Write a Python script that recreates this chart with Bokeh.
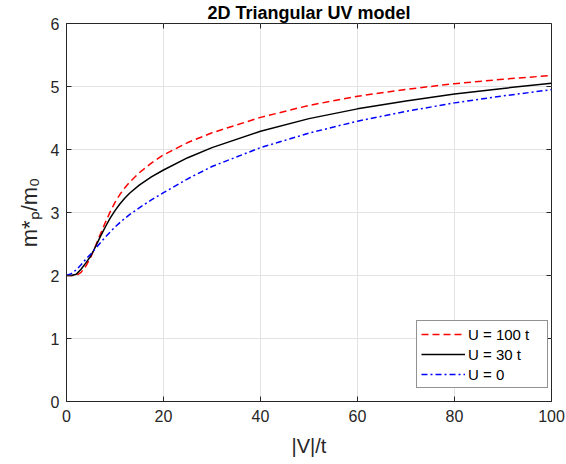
from bokeh.plotting import figure
from bokeh.models import Legend, LegendItem, FixedTicker, Range1d
from bokeh.embed import file_html
from bokeh.resources import INLINE

# ---- data ----
V = [0, 1, 2, 3, 4, 5, 6, 7, 8, 9, 10, 11, 12, 13, 15, 17.5, 20, 25, 30, 40, 50, 60, 70, 80, 90, 100]
m_U100 = [2.0, 2.0, 2.0, 2.05, 2.15, 2.29, 2.47, 2.66, 2.84, 3.01, 3.16, 3.285, 3.39, 3.48, 3.63,
          3.785, 3.915, 4.11, 4.265, 4.51, 4.70, 4.845, 4.955, 5.045, 5.115, 5.175]
m_U30 = [2.0, 2.0, 2.02, 2.10, 2.20, 2.31, 2.46, 2.62, 2.77, 2.91, 3.03, 3.135, 3.225, 3.305, 3.435,
         3.565, 3.675, 3.87, 4.03, 4.29, 4.49, 4.645, 4.77, 4.88, 4.97, 5.05]
m_U0 = [2.0, 2.03, 2.09, 2.17, 2.26, 2.34, 2.43, 2.52, 2.61, 2.69, 2.77, 2.84, 2.905, 2.965, 3.075,
        3.20, 3.315, 3.535, 3.73, 4.03, 4.26, 4.45, 4.605, 4.74, 4.85, 4.95]
labels = ["U = 100 t", "U = 30 t", "U = 0"]
x_ticks = [0, 20, 40, 60, 80, 100]
y_ticks = [0, 1, 2, 3, 4, 5, 6]

FONT = "Liberation Sans"
TXT = "#262626"
X0, X1, Y0, Y1 = 0, 100, 0, 6

p = figure(width=566, height=464, output_backend="svg", toolbar_location=None,
           x_range=Range1d(X0, X1), y_range=Range1d(Y0, Y1),
           min_border_left=66, min_border_right=15, min_border_top=23, min_border_bottom=63)
p.background_fill_color = "white"
p.border_fill_color = "white"
p.outline_line_color = TXT
p.outline_line_width = 1

p.title.text = "2D Triangular UV model"
p.title.align = "center"
p.title.text_font = FONT
p.title.text_font_size = "18px"
p.title.text_font_style = "bold"
p.title.text_color = "black"
p.title.standoff = 1

for ax in (p.xaxis[0], p.yaxis[0]):
    ax.major_tick_in = 5
    ax.major_tick_out = 0
    ax.minor_tick_line_color = None
    ax.axis_line_color = TXT
    ax.major_tick_line_color = TXT
    ax.major_label_text_font = FONT
    ax.major_label_text_font_size = "16px"
    ax.major_label_text_color = TXT
    ax.axis_label_text_font = FONT
    ax.axis_label_text_color = TXT
    ax.axis_label_text_font_style = "normal"

p.xaxis.ticker = FixedTicker(ticks=x_ticks)
p.yaxis.ticker = FixedTicker(ticks=y_ticks)
p.xaxis.major_label_standoff = 8
p.yaxis.major_label_standoff = 7
p.xaxis.axis_label = "|V|/t"
p.xaxis.axis_label_text_font_size = "20px"
p.xaxis.axis_label_standoff = 10
p.yaxis.axis_label = "m*\u209a/m\u2080"
p.yaxis.axis_label_text_font_size = "22px"
p.yaxis.axis_label_standoff = 6

p.xgrid.grid_line_color = "#e3e3e3"
p.ygrid.grid_line_color = "#e3e3e3"
p.xgrid.ticker = FixedTicker(ticks=x_ticks)
p.ygrid.ticker = FixedTicker(ticks=y_ticks)

# tick marks on the top and right edges of the box (from the tick lists)
tick_len_y = 5 * (Y1 - Y0) / 378.0
tick_len_x = 5 * (X1 - X0) / 485.0
p.segment(x0=x_ticks, y0=[Y1] * len(x_ticks), x1=x_ticks, y1=[Y1 - tick_len_y] * len(x_ticks),
          line_color=TXT, line_width=1)
p.segment(x0=[X1] * len(y_ticks), y0=y_ticks, x1=[X1 - tick_len_x] * len(y_ticks), y1=y_ticks,
          line_color=TXT, line_width=1)

r1 = p.line(V, m_U100, line_color="#ff0000", line_width=1.5, line_dash="7 4")
r2 = p.line(V, m_U30, line_color="black", line_width=1.5)
r3 = p.line(V, m_U0, line_color="#0000ff", line_width=1.5, line_dash="6 3 2 3")

legend = Legend(items=[LegendItem(label=labels[0], renderers=[r1]),
                       LegendItem(label=labels[1], renderers=[r2]),
                       LegendItem(label=labels[2], renderers=[r3])],
                location=(350, 13), glyph_width=44, glyph_height=18, label_height=18,
                label_standoff=3, spacing=2, padding=4, margin=0,
                label_text_font=FONT, label_text_font_size="15px", label_text_color="black",
                border_line_color=TXT, border_line_width=1, background_fill_alpha=1,
                label_width=75)
p.add_layout(legend, "center")

open("out.html", "w").write(file_html(p, INLINE))
